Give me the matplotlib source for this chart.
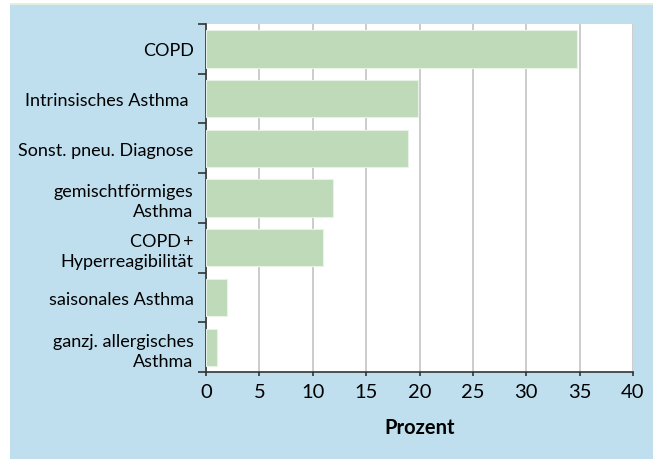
import matplotlib.pyplot as plt
from matplotlib.patches import Rectangle

categories = [
    'COPD',
    'Intrinsisches Asthma ',
    'Sonst. pneu. Diagnose',
    'gemischtförmiges\nAsthma',
    'COPD\u2009+\nHyperreagibilität',
    'saisonales Asthma',
    'ganzj. allergisches\nAsthma',
]
values = [34.8, 19.9, 18.9, 11.9, 11.0, 2.0, 1.0]
xticks = [0, 5, 10, 15, 20, 25, 30, 35, 40]

plt.rcParams['font.family'] = ['Lato', 'DejaVu Sans']

fig = plt.figure(figsize=(6.55, 4.6), dpi=100)
fig.patch.set_facecolor('white')

# blue panel behind the chart, with a faint line along its top
fig.patches.append(Rectangle((10 / 655, -0.01), 643 / 655, 1.01 - 5 / 460,
                             transform=fig.transFigure, facecolor='#c0dfee',
                             edgecolor='none', zorder=-10))
fig.patches.append(Rectangle((10 / 655, 1 - 6 / 460), 643 / 655, 2 / 460,
                             transform=fig.transFigure, facecolor='#e2eedf',
                             edgecolor='none', zorder=-9))

ax = fig.add_axes([206 / 655, 87 / 460, 427 / 655, 348 / 460])
ax.set_facecolor('white')

y = list(range(len(categories)))
ax.barh(y, values, height=0.75, color='#bedab9', edgecolor='#e8f2e6',
        linewidth=0.8, zorder=3)

ax.set_xlim(0, 40)
ax.set_ylim(len(categories) - 0.5, -0.5)
ax.set_xticks(xticks)
ax.set_xticklabels([str(t) for t in xticks], fontsize=14.5)
ax.xaxis.grid(True, color='#c4c4c4', linewidth=1.2, zorder=0)
ax.set_axisbelow(True)

ax.set_yticks(y)
ax.set_yticklabels(categories, fontsize=13, linespacing=1.3)
ax.set_yticks([i - 0.5 for i in range(len(categories) + 1)], minor=True)
ax.tick_params(axis='y', which='major', length=0, pad=9)
ax.tick_params(axis='y', which='minor', length=6, width=1.2, color='#333333')
ax.tick_params(axis='x', length=3, width=1.2, color='#333333', pad=5)

for s in ['top', 'right']:
    ax.spines[s].set_visible(False)
ax.spines['left'].set_color('#333333')
ax.spines['bottom'].set_color('#333333')
ax.spines['left'].set_linewidth(1.2)
ax.spines['bottom'].set_linewidth(1.2)

ax.set_xlabel('Prozent', fontsize=14.5, fontweight='bold', labelpad=12)

fig.savefig('out.png', dpi=100, facecolor=fig.get_facecolor())
